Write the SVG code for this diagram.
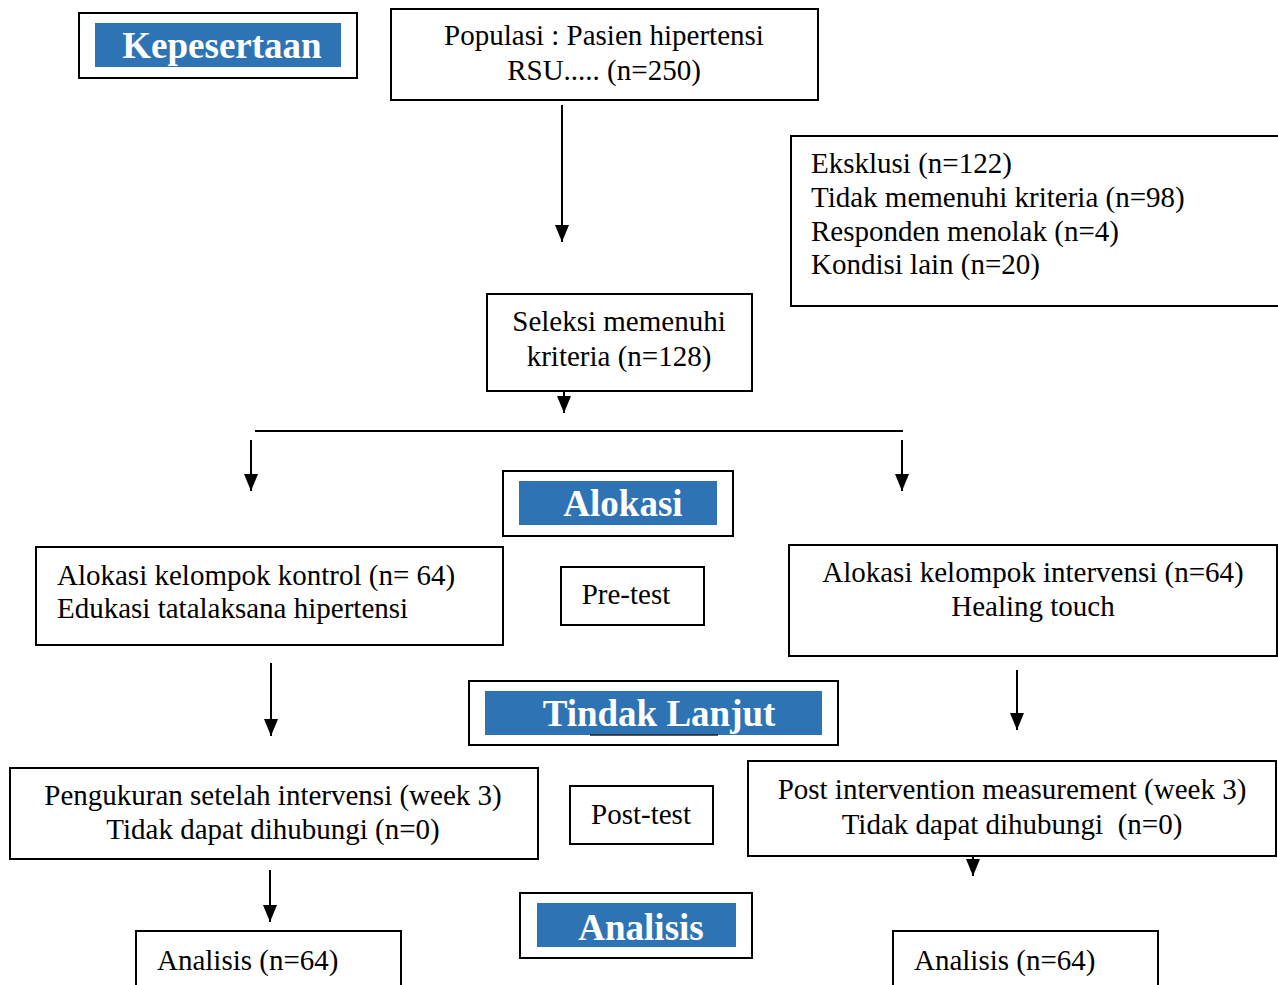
<svg xmlns="http://www.w3.org/2000/svg" width="1278" height="985" viewBox="0 0 1278 985">
<defs>
<marker id="ah" markerWidth="18" markerHeight="16" refX="17" refY="8" orient="auto" markerUnits="userSpaceOnUse" viewBox="0 0 18 16">
<path d="M0,1 L17,8 L0,15 Z" fill="#000"/>
</marker>
<style>
.box{fill:#fff;stroke:#000;stroke-width:2}
.blue{fill:#2E74B5}
.t{font-family:"Liberation Serif","Times New Roman",serif;font-size:29px;fill:#000}
.c{text-anchor:middle}
.h{font-family:"Liberation Serif","Times New Roman",serif;font-size:37px;font-weight:bold;fill:#fff;text-anchor:middle}
.ln{stroke:#000;stroke-width:2;fill:none}
</style>
</defs>
<rect width="1278" height="985" fill="#fff"/>

<g id="kepesertaan">
<rect class="box" x="79" y="13" width="278" height="65"/>
<rect class="blue" x="95" y="23" width="246" height="44"/>
<text class="h" x="222" y="58">Kepesertaan</text>
</g>

<g id="populasi">
<rect class="box" x="391" y="9" width="427" height="91"/>
<text class="t c" x="604" y="45">Populasi : Pasien hipertensi</text>
<text class="t c" x="604" y="80">RSU..... (n=250)</text>
</g>

<g id="eksklusi">
<rect class="box" x="791" y="136" width="500" height="170"/>
<text class="t" x="811" y="173">Eksklusi (n=122)</text>
<text class="t" x="811" y="207">Tidak memenuhi kriteria (n=98)</text>
<text class="t" x="811" y="241">Responden menolak (n=4)</text>
<text class="t" x="811" y="274">Kondisi lain (n=20)</text>
</g>

<g id="seleksi">
<rect class="box" x="487" y="294" width="265" height="97"/>
<text class="t c" x="619" y="331">Seleksi memenuhi</text>
<text class="t c" x="619" y="366">kriteria (n=128)</text>
</g>

<g id="alokasi">
<rect class="box" x="503" y="471" width="230" height="65"/>
<rect class="blue" x="519" y="481" width="198" height="44"/>
<text class="h" x="623" y="516">Alokasi</text>
</g>

<g id="kontrol">
<rect class="box" x="36" y="547" width="467" height="98"/>
<text class="t" x="57" y="585">Alokasi kelompok kontrol (n= 64)</text>
<text class="t" x="57" y="618">Edukasi tatalaksana hipertensi</text>
</g>

<g id="pretest">
<rect class="box" x="561" y="567" width="143" height="58"/>
<text class="t c" x="626" y="604">Pre-test</text>
</g>

<g id="intervensi">
<rect class="box" x="789" y="545" width="488" height="111"/>
<text class="t c" x="1033" y="582">Alokasi kelompok intervensi (n=64)</text>
<text class="t c" x="1033" y="616">Healing touch</text>
</g>

<g id="tindaklanjut">
<rect class="box" x="469" y="681" width="369" height="64"/>
<rect class="blue" x="485" y="691" width="337" height="44"/>
<text class="h" x="659" y="726">Tindak Lanjut</text>
<line x1="590" y1="735" x2="718" y2="735" stroke="#222" stroke-width="1.5"/>
</g>

<g id="pengukuran">
<rect class="box" x="10" y="768" width="528" height="91"/>
<text class="t c" x="273" y="805">Pengukuran setelah intervensi (week 3)</text>
<text class="t c" x="273" y="839">Tidak dapat dihubungi (n=0)</text>
</g>

<g id="posttest">
<rect class="box" x="570" y="786" width="143" height="58"/>
<text class="t c" x="641" y="824">Post-test</text>
</g>

<g id="postintervention">
<rect class="box" x="748" y="761" width="528" height="95"/>
<text class="t c" x="1012" y="799">Post intervention measurement (week 3)</text>
<text class="t c" x="1012" y="834" xml:space="preserve">Tidak dapat dihubungi  (n=0)</text>
</g>

<g id="analisis">
<rect class="box" x="520" y="893" width="232" height="65"/>
<rect class="blue" x="537" y="903" width="199" height="44"/>
<text class="h" x="641" y="940">Analisis</text>
</g>

<g id="analisis-kiri">
<rect class="box" x="136" y="931" width="265" height="80"/>
<text class="t" x="157" y="970">Analisis (n=64)</text>
</g>

<g id="analisis-kanan">
<rect class="box" x="893" y="931" width="265" height="80"/>
<text class="t" x="914" y="970">Analisis (n=64)</text>
</g>

<g id="connectors">
<line class="ln" x1="562" y1="105" x2="562" y2="242" marker-end="url(#ah)"/>
<line class="ln" x1="564" y1="391" x2="564" y2="413" marker-end="url(#ah)"/>
<line class="ln" x1="255" y1="431" x2="903" y2="431"/>
<line class="ln" x1="251" y1="440" x2="251" y2="491" marker-end="url(#ah)"/>
<line class="ln" x1="902" y1="440" x2="902" y2="491" marker-end="url(#ah)"/>
<line class="ln" x1="271" y1="663" x2="271" y2="736" marker-end="url(#ah)"/>
<line class="ln" x1="1017" y1="670" x2="1017" y2="730" marker-end="url(#ah)"/>
<line class="ln" x1="973" y1="856" x2="973" y2="876" marker-end="url(#ah)"/>
<line class="ln" x1="270" y1="870" x2="270" y2="922" marker-end="url(#ah)"/>
</g>
</svg>
